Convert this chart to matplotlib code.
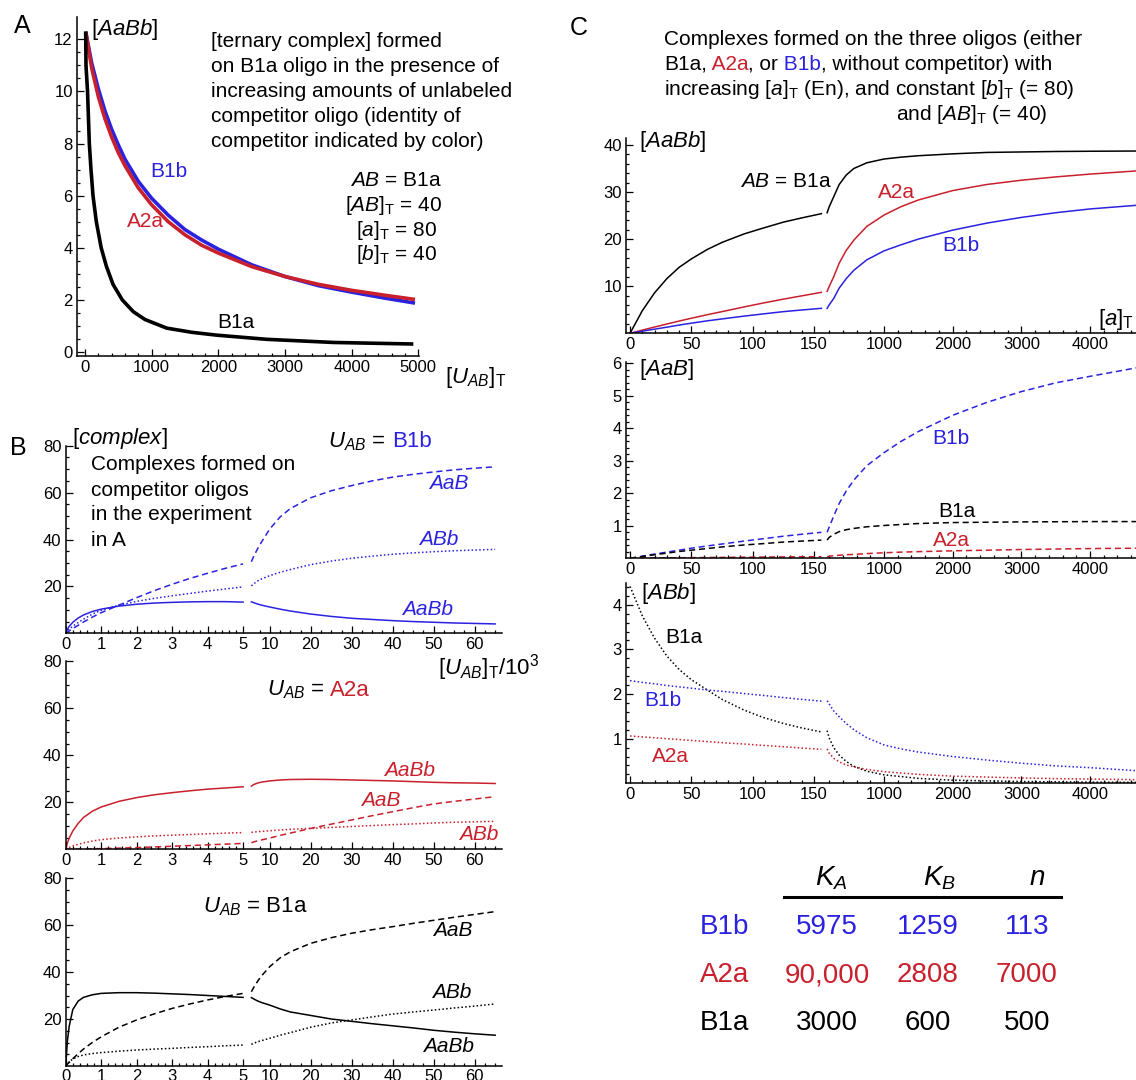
import numpy as np
import matplotlib
matplotlib.use('Agg')
import matplotlib.pyplot as plt
from matplotlib.lines import Line2D

W, H = 1136, 1080
plt.rcParams['font.family'] = ['Liberation Sans', 'DejaVu Sans']
plt.rcParams['mathtext.fontset'] = 'custom'
plt.rcParams['mathtext.rm'] = 'Liberation Sans'
plt.rcParams['mathtext.it'] = 'Liberation Sans:italic'
plt.rcParams['mathtext.bf'] = 'Liberation Sans:bold'

BLUE = '#2b22e0'
RED = '#c8202c'
BLACK = '#000000'

# ---------------- Panel A data ----------------
A_B1a_x = [10, 15, 38, 65, 90, 120, 170, 243, 320, 420, 560, 725, 900, 1225, 1600, 1975, 2725, 3725, 4925]
A_B1a_y = [12.3, 11.0, 10.0, 8.0, 7.0, 6.0, 5.0, 4.0, 3.3, 2.6, 2.0, 1.55, 1.25, 0.92, 0.76, 0.65, 0.49, 0.37, 0.31]
A_X = [10, 100, 200, 300, 400, 500, 600, 800, 1000, 1250, 1500, 1750, 2000, 2500, 3000, 3500, 4000, 4500, 4950]
A_B1b_y = [12.3, 11.1, 10.1, 9.25, 8.55, 7.95, 7.4, 6.55, 5.9, 5.25, 4.7, 4.3, 3.95, 3.35, 2.9, 2.55, 2.3, 2.07, 1.88]
A_A2a_y = [12.3, 10.9, 9.8, 8.95, 8.25, 7.65, 7.15, 6.3, 5.65, 5.0, 4.5, 4.1, 3.8, 3.28, 2.9, 2.6, 2.37, 2.18, 2.02]

# ---------------- Panel B data (x in thousands) ----------------
B_X1 = [0, 0.05, 0.1, 0.2, 0.35, 0.5, 0.75, 1, 1.5, 2, 2.5, 3, 3.5, 4, 4.5, 5]
B_X2 = [5.5, 6, 7, 8, 10, 12.5, 15, 20, 25, 30, 35, 40, 45, 50, 55, 60, 65]

# U_AB = B1b (blue)
B1b_AaB_1 = [0, 0.5, 1.0, 2.0, 3.4, 4.8, 6.9, 8.8, 12.0, 15.2, 18.2, 20.9, 23.4, 25.6, 27.7, 29.6]
B1b_AaB_2 = [30.5, 32.6, 36.0, 39.0, 44.5, 49.6, 53.2, 57.8, 60.8, 63.0, 65.0, 66.6, 67.8, 68.8, 69.7, 70.4, 71.0]
B1b_ABb_1 = [0, 1.0, 1.8, 3.0, 4.6, 6.0, 8.2, 9.8, 12.0, 13.6, 14.9, 16.0, 17.0, 18.0, 18.9, 19.8]
B1b_ABb_2 = [20.2, 21.0, 22.3, 23.2, 24.6, 26.0, 27.2, 29.3, 30.8, 32.0, 32.9, 33.7, 34.3, 34.8, 35.2, 35.5, 35.8]
B1b_AaBb_1 = [0, 1.8, 3.0, 4.7, 6.5, 7.8, 9.3, 10.3, 11.6, 12.4, 12.9, 13.2, 13.4, 13.5, 13.5, 13.3]
B1b_AaBb_2 = [13.4, 13.1, 12.5, 12.0, 11.2, 10.3, 9.5, 8.2, 7.2, 6.4, 5.9, 5.4, 5.0, 4.7, 4.4, 4.2, 4.0]

# U_AB = A2a (red)
A2a_AaBb_1 = [0, 2.8, 4.8, 7.8, 11.0, 13.5, 16.2, 18.0, 20.4, 22.0, 23.2, 24.1, 24.9, 25.6, 26.1, 26.6]
A2a_AaBb_2 = [26.9, 27.5, 28.2, 28.6, 29.1, 29.5, 29.7, 29.8, 29.7, 29.5, 29.3, 29.1, 28.8, 28.5, 28.3, 28.2, 28.0]
A2a_AaB_1 = [0, 0.01, 0.03, 0.06, 0.1, 0.15, 0.23, 0.3, 0.5, 0.75, 1.0, 1.3, 1.6, 1.9, 2.2, 2.5]
A2a_AaB_2 = [2.8, 3.1, 3.6, 4.0, 4.8, 5.9, 6.9, 8.9, 10.7, 12.5, 14.3, 16.0, 17.7, 19.3, 20.4, 21.4, 22.4]
A2a_ABb_1 = [0, 0.4, 0.8, 1.4, 2.1, 2.7, 3.5, 4.1, 4.8, 5.3, 5.7, 6.0, 6.3, 6.6, 6.9, 7.1]
A2a_ABb_2 = [7.2, 7.3, 7.5, 7.6, 7.9, 8.2, 8.5, 8.9, 9.3, 9.7, 10.1, 10.5, 10.8, 11.2, 11.5, 11.7, 11.9]

# U_AB = B1a (black)
B1a_AaBb_1 = [0, 11.0, 17.0, 24.0, 27.6, 29.2, 30.3, 30.9, 31.2, 31.2, 31.0, 30.7, 30.4, 30.0, 29.6, 29.2]
B1a_AaBb_2 = [29.1, 28.6, 27.7, 27.0, 25.9, 24.3, 23.0, 21.5, 20.0, 19.0, 18.0, 17.1, 16.2, 15.2, 14.4, 13.7, 13.1]
B1a_AaB_1 = [0, 0.8, 1.6, 3.1, 5.2, 7.2, 10.0, 12.4, 16.5, 19.6, 22.2, 24.5, 26.4, 28.1, 29.6, 30.9]
B1a_AaB_2 = [31.6, 33.2, 36.0, 38.4, 42.3, 46.0, 48.6, 52.2, 54.6, 56.5, 58.0, 59.3, 60.7, 62.0, 63.3, 64.5, 65.7]
B1a_ABb_1 = [0, 1.0, 1.8, 3.0, 4.0, 4.7, 5.3, 5.7, 6.3, 6.8, 7.2, 7.5, 7.9, 8.2, 8.6, 8.9]
B1a_ABb_2 = [9.2, 9.6, 10.3, 10.8, 11.8, 13.1, 14.2, 16.5, 18.3, 19.6, 20.9, 22.1, 23.0, 23.8, 24.7, 25.5, 26.4]

# ---------------- Panel C data (x = [a]_T) ----------------
C_X1 = [0, 10, 20, 30, 40, 50, 63, 75, 93, 108, 125, 140, 156]
C_X2 = [172, 200, 268, 348, 450, 562, 750, 1000, 1250, 1500, 2000, 2500, 3000, 3500, 4000, 4700]

# [AaBb]
C_AaBb_B1a_1 = [0, 4.8, 8.6, 11.6, 14.0, 15.8, 17.8, 19.3, 21.1, 22.3, 23.6, 24.5, 25.4]
C_AaBb_B1a_2 = [25.6, 26.8, 29.0, 31.6, 33.6, 35.0, 36.2, 37.0, 37.4, 37.7, 38.1, 38.4, 38.5, 38.6, 38.65, 38.7]
C_AaBb_A2a_1 = [0, 0.68, 1.33, 1.97, 2.6, 3.2, 3.95, 4.6, 5.6, 6.4, 7.25, 7.95, 8.7]
C_AaBb_A2a_2 = [8.9, 9.9, 12.0, 14.9, 17.6, 19.8, 22.7, 25.1, 26.9, 28.3, 30.3, 31.6, 32.5, 33.2, 33.8, 34.5]
C_AaBb_B1b_1 = [0, 0.45, 0.88, 1.3, 1.75, 2.15, 2.65, 3.05, 3.65, 4.1, 4.6, 4.95, 5.3]
C_AaBb_B1b_2 = [5.3, 6.0, 7.4, 9.6, 11.6, 13.4, 15.6, 17.5, 18.8, 20.0, 21.9, 23.4, 24.6, 25.6, 26.4, 27.2]

# [AaB]
C_AaB_B1b_1 = [0, 0.065, 0.13, 0.19, 0.25, 0.31, 0.38, 0.44, 0.53, 0.6, 0.68, 0.74, 0.80]
C_AaB_B1b_2 = [0.80, 0.95, 1.3, 1.69, 2.07, 2.41, 2.85, 3.25, 3.6, 3.9, 4.4, 4.8, 5.13, 5.4, 5.6, 5.87]
C_AaB_B1a_1 = [0, 0.055, 0.11, 0.16, 0.21, 0.25, 0.3, 0.35, 0.41, 0.45, 0.5, 0.53, 0.56]
C_AaB_B1a_2 = [0.56, 0.64, 0.74, 0.82, 0.88, 0.92, 0.97, 1.01, 1.04, 1.07, 1.10, 1.11, 1.12, 1.125, 1.13, 1.13]
C_AaB_A2a_1 = [0, 0.004, 0.008, 0.012, 0.016, 0.02, 0.024, 0.028, 0.034, 0.038, 0.043, 0.047, 0.05]
C_AaB_A2a_2 = [0.05, 0.06, 0.08, 0.095, 0.11, 0.12, 0.145, 0.17, 0.19, 0.205, 0.23, 0.25, 0.27, 0.285, 0.30, 0.31]

# [ABb]
C_ABb_B1a_1 = [4.41, 3.75, 3.25, 2.85, 2.55, 2.32, 2.09, 1.88, 1.64, 1.48, 1.34, 1.24, 1.15]
C_ABb_B1a_2 = [1.18, 1.02, 0.8, 0.63, 0.49, 0.38, 0.27, 0.19, 0.15, 0.11, 0.07, 0.055, 0.04, 0.033, 0.027, 0.02]
C_ABb_B1b_1 = [2.30, 2.26, 2.23, 2.19, 2.16, 2.13, 2.09, 2.06, 2.01, 1.97, 1.92, 1.88, 1.84]
C_ABb_B1b_2 = [1.85, 1.78, 1.62, 1.49, 1.34, 1.2, 1.02, 0.86, 0.77, 0.7, 0.6, 0.52, 0.45, 0.39, 0.35, 0.28]
C_ABb_A2a_1 = [1.06, 1.04, 1.02, 1.0, 0.98, 0.96, 0.935, 0.91, 0.88, 0.85, 0.82, 0.79, 0.76]
C_ABb_A2a_2 = [0.77, 0.68, 0.56, 0.48, 0.41, 0.37, 0.31, 0.26, 0.23, 0.2, 0.16, 0.14, 0.12, 0.105, 0.095, 0.08]

# ---------------- Table ----------------
TAB_ROWS = ['B1b', 'A2a', 'B1a']
TAB_KA = ['5975', '90,000', '3000']
TAB_KB = ['1259', '2808', '600']
TAB_N = ['113', '7000', '500']
TAB_COLORS = [BLUE, RED, BLACK]

# ---------------- helpers ----------------
fig = plt.figure(figsize=(W / 100, H / 100), dpi=100)


def add_ax(l, t, r, b):
    return fig.add_axes([l / W, 1 - b / H, (r - l) / W, (b - t) / H])


def ftext(x, y, s, **kw):
    kw.setdefault('va', 'center')
    return fig.text(x / W, 1 - y / H, s, **kw)


def style(ax):
    for s in ['top', 'right']:
        ax.spines[s].set_visible(False)
    for s in ['left', 'bottom']:
        ax.spines[s].set_linewidth(1.1)
    ax.tick_params(which='both', direction='in', labelsize=12, width=0.9, pad=3)
    ax.tick_params(which='major', length=5)
    ax.tick_params(which='minor', length=2.5)
    ax.patch.set_alpha(0)


def broken(b, r):
    def fwd(x):
        x = np.asarray(x, float)
        return np.where(x <= b, x, b + (x - b) * r)

    def inv(u):
        u = np.asarray(u, float)
        return np.where(u <= b, u, b + (u - b) / r)
    return fwd, inv


DASH = (0, (4, 2.5))
DOT = (0, (1, 1.5))
LW = 1.1

# ---------------- Panel A ----------------
axA = add_ax(77, 16.7, 419, 356)
style(axA)
axA.plot(A_X, A_B1b_y, color=BLUE, lw=2.6, solid_capstyle='butt')
axA.plot(A_X, A_A2a_y, color=RED, lw=2.6, solid_capstyle='butt')
axA.plot(A_B1a_x, A_B1a_y, color=BLACK, lw=2.6, solid_capstyle='butt')
axA.set_xlim(-120, 5010)
axA.set_ylim(-0.15, 12.87)
axA.set_xticks([0, 1000, 2000, 3000, 4000, 5000])
axA.set_xticks([v for v in range(200, 5000, 200) if v % 1000], minor=True)
axA.set_yticks([0, 2, 4, 6, 8, 10, 12])
axA.set_yticks([v * 0.5 for v in range(1, 25) if v % 4], minor=True)

ftext(22, 26, 'A', fontsize=18, ha='center')
ftext(91, 30, r'$[AaBb]$', fontsize=16, ha='left')
for i, line in enumerate(['[ternary complex] formed',
                          'on B1a oligo in the presence of',
                          'increasing amounts of unlabeled',
                          'competitor oligo (identity of',
                          'competitor indicated by color)']):
    ftext(210.7, 41.7 + 25 * i, line, fontsize=15, ha='left')
ftext(396, 180, r'$AB$ = B1a', fontsize=15, ha='center')
ftext(394, 205, r'$[AB]_{\mathrm{T}}$ = 40', fontsize=15, ha='center')
ftext(397, 230, r'$[a]_{\mathrm{T}}$ = 80', fontsize=15, ha='center')
ftext(397, 255, r'$[b]_{\mathrm{T}}$ = 40', fontsize=15, ha='center')
ftext(169, 171.7, 'B1b', color=BLUE, fontsize=15, ha='center')
ftext(145, 221.7, 'A2a', color=RED, fontsize=15, ha='center')
ftext(235.5, 322, 'B1a', color=BLACK, fontsize=15, ha='center')
ftext(445, 378, r'$[U_{AB}]_{\mathrm{T}}$', fontsize=16, ha='left')

# ---------------- Panel B ----------------
B_BREAK, B_R = 5.2, 0.1155
B_XMAX = 66.6
B_MAJ = [0, 1, 2, 3, 4, 5, 10, 20, 30, 40, 50, 60]
B_MIN = [round(v * 0.2, 1) for v in range(1, 25) if v % 5] + \
        [v * 2.5 for v in range(3, 27) if (v * 2.5) % 10]


def setup_B(ax):
    style(ax)
    ax.set_xscale('function', functions=broken(B_BREAK, B_R))
    ax.set_xlim(0, B_XMAX)
    ax.set_ylim(0, 80)
    ax.set_xticks(B_MAJ, labels=[str(v) for v in B_MAJ])
    ax.set_xticks(B_MIN, minor=True)
    ax.set_yticks([20, 40, 60, 80])
    ax.set_yticks([5, 10, 15, 25, 30, 35, 45, 50, 55, 65, 70, 75], minor=True)
    ax.tick_params(axis='x', pad=2.5)


def plot_split(ax, x1, y1, x2, y2, color, ls):
    ax.plot(x1, y1, color=color, lw=LW, ls=ls)
    ax.plot(x2, y2, color=color, lw=LW, ls=ls)


axB1 = add_ax(65.7, 445.7, 501.7, 633.3)
setup_B(axB1)
plot_split(axB1, B_X1, B1b_AaB_1, B_X2, B1b_AaB_2, BLUE, DASH)
plot_split(axB1, B_X1, B1b_ABb_1, B_X2, B1b_ABb_2, BLUE, DOT)
plot_split(axB1, B_X1, B1b_AaBb_1, B_X2, B1b_AaBb_2, BLUE, '-')

axB2 = add_ax(65.7, 661.3, 501.7, 849.3)
setup_B(axB2)
plot_split(axB2, B_X1, A2a_AaBb_1, B_X2, A2a_AaBb_2, RED, '-')
plot_split(axB2, B_X1, A2a_AaB_1, B_X2, A2a_AaB_2, RED, DASH)
plot_split(axB2, B_X1, A2a_ABb_1, B_X2, A2a_ABb_2, RED, DOT)

axB3 = add_ax(65.7, 878, 501.7, 1066)
setup_B(axB3)
plot_split(axB3, B_X1, B1a_AaBb_1, B_X2, B1a_AaBb_2, BLACK, '-')
plot_split(axB3, B_X1, B1a_AaB_1, B_X2, B1a_AaB_2, BLACK, DASH)
plot_split(axB3, B_X1, B1a_ABb_1, B_X2, B1a_ABb_2, BLACK, DOT)

ftext(18, 448, 'B', fontsize=18, ha='center')
ftext(71.7, 438.3, r'$[complex]$', fontsize=16, ha='left')
for i, line in enumerate(['Complexes formed on', 'competitor oligos',
                          'in the experiment', 'in A']):
    ftext(90.7, 465 + 25 * i, line, fontsize=15, ha='left')
ftext(386, 441.7, r'$U_{AB}$ =', fontsize=16, ha='right')
ftext(391.7, 441.7, 'B1b', color=BLUE, fontsize=16, ha='left')
ftext(449, 483.3, 'AaB', color=BLUE, fontsize=15, style='italic', ha='center')
ftext(439, 539.3, 'ABb', color=BLUE, fontsize=15, style='italic', ha='center')
ftext(428, 609.3, 'AaBb', color=BLUE, fontsize=15, style='italic', ha='center')
ftext(438, 668, r'$[U_{AB}]_{\mathrm{T}}/10^3$', fontsize=16, ha='left')

ftext(325, 690, r'$U_{AB}$ =', fontsize=16, ha='right')
ftext(330, 690, 'A2a', color=RED, fontsize=16, ha='left')
ftext(410, 770, 'AaBb', color=RED, fontsize=15, style='italic', ha='center')
ftext(381, 800, 'AaB', color=RED, fontsize=15, style='italic', ha='center')
ftext(479, 835, 'ABb', color=RED, fontsize=15, style='italic', ha='center')

ftext(203, 906.7, r'$U_{AB}$ = B1a', fontsize=16, ha='left')
ftext(453, 930, 'AaB', fontsize=15, style='italic', ha='center')
ftext(452, 993, 'ABb', fontsize=15, style='italic', ha='center')
ftext(448.5, 1046.7, 'AaBb', fontsize=15, style='italic', ha='center')

# ---------------- Panel C ----------------
C_BREAK, C_R = 160, 0.05598
C_XMIN, C_XMAX = -3.3, 4670
C_MAJ = [0, 50, 100, 150, 1000, 2000, 3000, 4000]
C_MIN = [v for v in range(10, 160, 10) if v % 50] + \
        [v for v in range(200, 4700, 200) if v % 1000]


def setup_C(ax, ymax, ymaj, ymin):
    style(ax)
    ax.set_xscale('function', functions=broken(C_BREAK, C_R))
    ax.set_xlim(C_XMIN, C_XMAX)
    ax.set_ylim(0, ymax)
    ax.set_xticks(C_MAJ, labels=[str(v) for v in C_MAJ])
    ax.set_xticks(C_MIN, minor=True)
    ax.set_yticks(ymaj)
    ax.set_yticks(ymin, minor=True)
    ax.tick_params(axis='x', pad=2.5)


axC1 = add_ax(626, 138.3, 1136, 333.3)
setup_C(axC1, 41.4, [10, 20, 30, 40], [v for v in range(2, 41, 2) if v % 10])
plot_split(axC1, C_X1, C_AaBb_B1a_1, C_X2, C_AaBb_B1a_2, BLACK, '-')
plot_split(axC1, C_X1, C_AaBb_A2a_1, C_X2, C_AaBb_A2a_2, RED, '-')
plot_split(axC1, C_X1, C_AaBb_B1b_1, C_X2, C_AaBb_B1b_2, BLUE, '-')

axC2 = add_ax(626, 361.7, 1136, 558.3)
setup_C(axC2, 6.05, [1, 2, 3, 4, 5, 6], [v * 0.2 for v in range(1, 31) if v % 5])
plot_split(axC2, C_X1, C_AaB_B1b_1, C_X2, C_AaB_B1b_2, BLUE, DASH)
plot_split(axC2, C_X1, C_AaB_B1a_1, C_X2, C_AaB_B1a_2, BLACK, DASH)
plot_split(axC2, C_X1, C_AaB_A2a_1, C_X2, C_AaB_A2a_2, RED, DASH)

axC3 = add_ax(626, 583.3, 1136, 783.3)
setup_C(axC3, 4.48, [1, 2, 3, 4], [v * 0.2 for v in range(1, 23) if v % 5])
plot_split(axC3, C_X1, C_ABb_B1a_1, C_X2, C_ABb_B1a_2, BLACK, DOT)
plot_split(axC3, C_X1, C_ABb_B1b_1, C_X2, C_ABb_B1b_2, BLUE, DOT)
plot_split(axC3, C_X1, C_ABb_A2a_1, C_X2, C_ABb_A2a_2, RED, DOT)

ftext(579, 28, 'C', fontsize=18, ha='center')
ftext(664, 39.3, 'Complexes formed on the three oligos (either', fontsize=15, ha='left')

renderer = fig.canvas.get_renderer()
xpos = 664
for s, c in [('B1a,', BLACK), (' A2a', RED), (', or', BLACK), (' B1b', BLUE),
             (', without competitor) with', BLACK)]:
    t = ftext(xpos, 64, s, color=c, fontsize=15, ha='left')
    xpos += t.get_window_extent(renderer=renderer).width

ftext(664, 89.3, r'increasing $[a]_{\mathrm{T}}$ (En), and constant $[b]_{\mathrm{T}}$ (= 80)',
      fontsize=15, ha='left')
ftext(896, 115, r'and $[AB]_{\mathrm{T}}$ (= 40)', fontsize=15, ha='left')

ftext(639, 141.7, r'$[AaBb]$', fontsize=16, ha='left')
ftext(786, 181.7, r'$AB$ = B1a', fontsize=15, ha='center')
ftext(896, 192.3, 'A2a', color=RED, fontsize=15, ha='center')
ftext(960.5, 245.7, 'B1b', color=BLUE, fontsize=15, ha='center')
ftext(1098, 320, r'$[a]_{\mathrm{T}}$', fontsize=16, ha='left')

ftext(639, 370, r'$[AaB]$', fontsize=16, ha='left')
ftext(950.5, 438.3, 'B1b', color=BLUE, fontsize=15, ha='center')
ftext(956.5, 511.7, 'B1a', color=BLACK, fontsize=15, ha='center')
ftext(951.5, 540, 'A2a', color=RED, fontsize=15, ha='center')

ftext(641, 593.3, r'$[ABb]$', fontsize=16, ha='left')
ftext(684, 637.3, 'B1a', color=BLACK, fontsize=15, ha='center')
ftext(662.7, 700.7, 'B1b', color=BLUE, fontsize=15, ha='center')
ftext(670, 756.7, 'A2a', color=RED, fontsize=15, ha='center')

# ---------------- Table ----------------
COLX = [827, 927.5, 1027]
ftext(831.7, 878.3, r'$K_A$', fontsize=20, ha='center')
ftext(939, 878.3, r'$K_B$', fontsize=20, ha='center')
ftext(1037.5, 878, r'$n$', fontsize=20, ha='center')
fig.add_artist(Line2D([784 / W, 1060.7 / W], [1 - 897.3 / H, 1 - 897.3 / H],
                      transform=fig.transFigure, color='black', lw=2.2))
ROWY = [927.3, 975, 1023.3]
for i in range(3):
    ftext(700, ROWY[i], TAB_ROWS[i], color=TAB_COLORS[i], fontsize=20, ha='left')
    for cx, vals in zip(COLX, [TAB_KA, TAB_KB, TAB_N]):
        ftext(cx, ROWY[i], vals[i], color=TAB_COLORS[i], fontsize=20, ha='center')

fig.savefig('out.png', dpi=100)
